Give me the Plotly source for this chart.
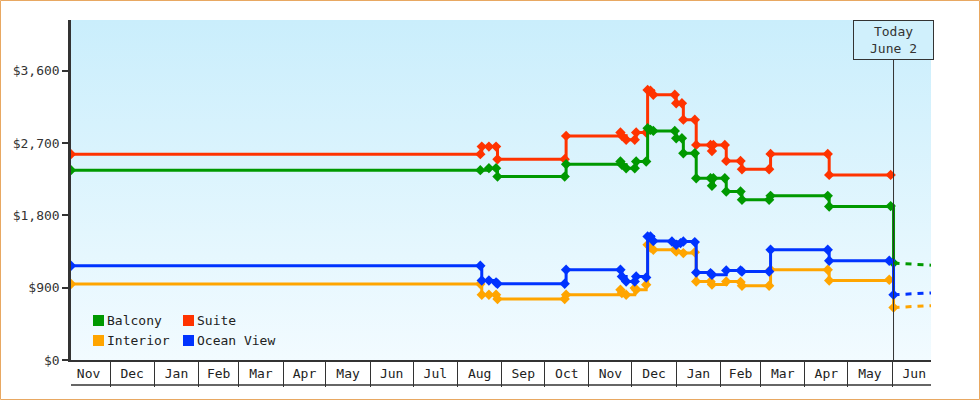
import base64
import plotly.graph_objects as go

# ---------------- data ----------------
START = "2016-11-03 17:00"
END = "2018-06-28 05:00"
TODAY = "2018-06-02"

suite_dates = [START, "2017-08-17", "2017-08-18", "2017-08-23", "2017-08-28", "2017-08-29",
               "2017-10-15", "2017-10-16", "2017-11-23", "2017-11-24", "2017-11-27", "2017-12-03",
               "2017-12-04", "2017-12-11", "2017-12-12", "2017-12-14", "2017-12-16", "2017-12-31",
               "2018-01-01", "2018-01-05", "2018-01-06", "2018-01-14", "2018-01-15", "2018-01-25",
               "2018-01-26", "2018-01-27", "2018-02-04", "2018-02-05", "2018-02-15", "2018-02-16",
               "2018-03-07", "2018-03-08", "2018-04-17", "2018-04-18", "2018-05-31"]
suite_vals = [2561, 2561, 2655, 2655, 2655, 2498,
              2498, 2788, 2830, 2790, 2740, 2740,
              2830, 2830, 3360, 3350, 3300, 3300,
              3195, 3195, 2990, 2990, 2676, 2676,
              2600, 2676, 2676, 2477, 2477, 2374,
              2374, 2564, 2564, 2303, 2303]

balcony_dates = [START, "2017-08-17", "2017-08-23", "2017-08-28", "2017-08-29",
                 "2017-10-15", "2017-10-16", "2017-11-23", "2017-11-24", "2017-11-27", "2017-12-03",
                 "2017-12-04", "2017-12-11", "2017-12-12", "2017-12-14", "2017-12-16", "2017-12-31",
                 "2018-01-01", "2018-01-05", "2018-01-06", "2018-01-14", "2018-01-15", "2018-01-25",
                 "2018-01-26", "2018-01-27", "2018-02-04", "2018-02-05", "2018-02-15", "2018-02-16",
                 "2018-03-07", "2018-03-08", "2018-04-17", "2018-04-18", "2018-05-31", TODAY]
balcony_vals = [2362, 2362, 2387, 2387, 2282,
                2282, 2436, 2469, 2430, 2386, 2386,
                2469, 2469, 2884, 2863, 2850, 2850,
                2759, 2759, 2573, 2573, 2262, 2262,
                2167, 2262, 2262, 2096, 2096, 1993,
                1993, 2042, 2042, 1909, 1915, 1206]

ocean_dates = [START, "2017-08-17", "2017-08-18", "2017-08-23", "2017-08-28", "2017-08-29",
               "2017-10-15", "2017-10-16", "2017-11-23", "2017-11-24", "2017-11-27", "2017-12-03",
               "2017-12-04", "2017-12-11", "2017-12-12", "2017-12-14", "2017-12-16", "2017-12-29",
               "2018-01-01", "2018-01-04", "2018-01-06", "2018-01-14", "2018-01-15", "2018-01-25",
               "2018-01-26", "2018-02-05", "2018-02-15", "2018-02-16",
               "2018-03-07", "2018-03-08", "2018-04-17", "2018-04-18", "2018-05-30", TODAY]
ocean_vals = [1172, 1172, 990, 990, 965, 948,
              948, 1122, 1122, 1039, 977, 977,
              1039, 1027, 1536, 1536, 1480, 1474,
              1433, 1454, 1474, 1467, 1089, 1081,
              1060, 1115, 1115, 1101,
              1101, 1371, 1371, 1234, 1234, 812]

interior_dates = [START, "2017-08-17", "2017-08-18", "2017-08-23", "2017-08-28", "2017-08-29",
                  "2017-10-15", "2017-10-16", "2017-11-23", "2017-11-24", "2017-11-27", "2017-12-03",
                  "2017-12-04", "2017-12-11", "2017-12-12", "2017-12-14", "2017-12-16", "2017-12-31",
                  "2018-01-01", "2018-01-06", "2018-01-14", "2018-01-15", "2018-01-25",
                  "2018-01-26", "2018-02-05", "2018-02-15", "2018-02-16",
                  "2018-03-07", "2018-03-08", "2018-04-17", "2018-04-18", "2018-05-30", TODAY]
interior_vals = [945, 945, 812, 812, 812, 758,
                 758, 812, 874, 833, 812, 895,
                 874, 936, 1433, 1400, 1371, 1371,
                 1350, 1330, 1340, 977, 977,
                 940, 977, 970, 924,
                 924, 1122, 1122, 990, 998, 654]

# projections after today: (series, value today, value at end)
proj_names = ["Balcony", "Ocean View", "Interior"]
proj_start = [1206, 812, 654]
proj_end = [1180, 835, 675]

series_names = ["Balcony", "Suite", "Interior", "Ocean View"]
colors = {"Balcony": "#009900", "Suite": "#ff3300", "Interior": "#ffa500", "Ocean View": "#0033ff"}

y_ticks = [0, 900, 1800, 2700, 3600]
y_ticktext = ["$" + format(v, ",") for v in y_ticks]
Y_MAX = 4230

# ---------------- figure ----------------
FONT = "DejaVu Sans Mono"
W, H = 980, 400
ML, MR, MT, MB = 71, 49, 20, 40
PW, PH = W - ML - MR, H - MT - MB

fig = go.Figure()

data = {
    "Suite": (suite_dates, suite_vals),
    "Balcony": (balcony_dates, balcony_vals),
    "Interior": (interior_dates, interior_vals),
    "Ocean View": (ocean_dates, ocean_vals),
}
for name in ["Suite", "Balcony", "Interior", "Ocean View"]:
    d, v = data[name]
    fig.add_trace(go.Scatter(
        x=d, y=v, name=name, mode="lines+markers",
        line=dict(color=colors[name], width=3, shape="hv"),
        marker=dict(symbol="diamond", size=8, color=colors[name]),
        showlegend=False, hoverinfo="x+y+name"))

for name, v0, v1 in zip(proj_names, proj_start, proj_end):
    fig.add_trace(go.Scatter(
        x=[TODAY, END], y=[v0, v1], mode="lines",
        line=dict(color=colors[name], width=3, dash="6px,6px"),
        showlegend=False, hoverinfo="skip"))

# background gradient
svg = ('<svg xmlns="http://www.w3.org/2000/svg" width="10" height="100" viewBox="0 0 10 100" '
       'preserveAspectRatio="none"><defs><linearGradient id="g" x1="0" y1="0" x2="0" y2="1">'
       '<stop offset="0" stop-color="#caeefc"/><stop offset="1" stop-color="#f2fbff"/>'
       '</linearGradient></defs><rect width="10" height="100" fill="url(#g)"/></svg>')
src = "data:image/svg+xml;base64," + base64.b64encode(svg.encode()).decode()

def px_x(p):
    return (p - ML) / PW

def px_y(p):
    return (H - MB - p) / PH

shapes = []
# month table bottom line
shapes.append(dict(type="line", xref="paper", yref="paper", x0=0, x1=1,
                   y0=px_y(385), y1=px_y(385), line=dict(color="#333", width=1.5)))
# today line
shapes.append(dict(type="line", xref="x", yref="paper", x0=TODAY, x1=TODAY, y0=0, y1=1,
                   line=dict(color="#333", width=1), layer="above"))
# outer border
shapes.append(dict(type="rect", xref="paper", yref="paper",
                   x0=px_x(0.5), x1=px_x(W - 0.5), y0=px_y(H - 0.5), y1=px_y(0.5),
                   line=dict(color="#e8a862", width=1), fillcolor="rgba(0,0,0,0)"))

annotations = [dict(x=TODAY, xref="x", y=1, yref="paper", yanchor="top", xanchor="center",
                    text="Today<br>June 2", showarrow=False,
                    font=dict(family=FONT, size=13, color="#333"),
                    bgcolor="#d0f0fc", bordercolor="#333", borderwidth=1, borderpad=1,
                    width=77, height=36)]

# legend (2 columns)
leg_cols = [93, 183]
leg_rows = [320.5, 340.5]
for i, name in enumerate(series_names):
    cx = leg_cols[i % 2]
    cy = leg_rows[i // 2]
    shapes.append(dict(type="rect", xref="paper", yref="paper",
                       x0=px_x(cx), x1=px_x(cx + 11), y0=px_y(cy + 5.5), y1=px_y(cy - 5.5),
                       line=dict(width=0), fillcolor=colors[name]))
    annotations.append(dict(x=px_x(cx + 12), y=px_y(cy), xref="paper", yref="paper",
                            xanchor="left", yanchor="middle", text=name, showarrow=False,
                            font=dict(family=FONT, size=13, color="#222")))

fig.update_layout(
    width=W, height=H,
    margin=dict(l=ML, r=MR, t=MT, b=MB),
    paper_bgcolor="white", plot_bgcolor="#e2f6fd",
    font=dict(family=FONT, size=13, color="#333"),
    showlegend=False,
    images=[dict(source=src, xref="paper", yref="paper", x=0, y=1, sizex=1, sizey=1,
                 sizing="stretch", layer="below", xanchor="left", yanchor="top")],
    shapes=shapes, annotations=annotations,
    xaxis=dict(type="date", range=[START, END], tick0="2016-11-01", dtick="M1",
               tickformat="%b", ticklabelmode="period", ticks="outside", ticklen=25,
               tickwidth=1, tickcolor="#333", ticklabelstandoff=-25,
               showline=True, linecolor="#333", linewidth=2, showgrid=False, zeroline=False,
               tickfont=dict(family=FONT, size=13, color="#222")),
    yaxis=dict(range=[0, Y_MAX], tickmode="array", tickvals=y_ticks, ticktext=y_ticktext,
               ticks="outside", ticklen=6, tickwidth=2, tickcolor="#333",
               showline=True, linecolor="#333", linewidth=2.5, showgrid=False, zeroline=False,
               tickfont=dict(family=FONT, size=13, color="#333")),
)

fig.write_html("out.html")
